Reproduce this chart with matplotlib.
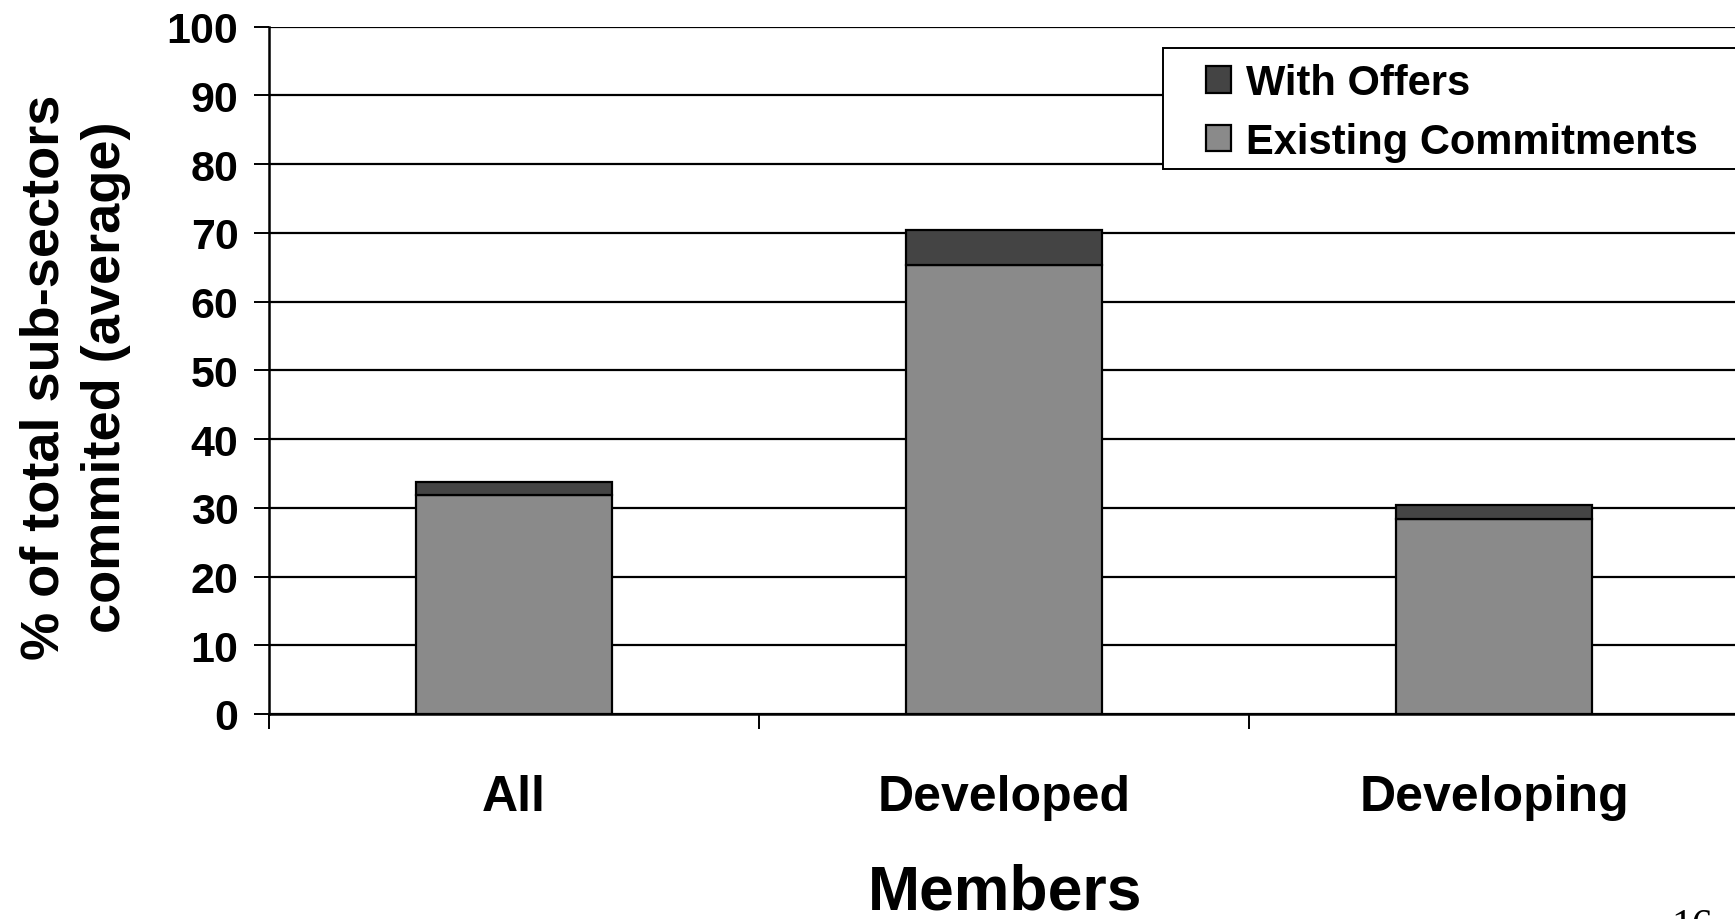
import numpy as np
import matplotlib
matplotlib.use('Agg')
import matplotlib.pyplot as plt
from matplotlib.patches import Rectangle

plt.rcParams['font.family'] = ['Liberation Sans', 'DejaVu Sans']
plt.rcParams['font.weight'] = 'bold'

# data
categories = ['All', 'Developed', 'Developing']
existing = [31.9, 65.4, 28.3]
offers = [1.9, 5.0, 2.1]
yticks = list(range(0, 101, 10))

W, H = 1735, 920
fig = plt.figure(figsize=(W / 100, H / 100), dpi=100)
ax = fig.add_axes([269 / W, 205 / H, 1.0025 - 269 / W, (715 - 27.7) / H])

x = np.arange(len(categories))
ax.bar(x, existing, width=0.4, color='#8a8a8a', edgecolor='black', linewidth=1.6,
       label='Existing Commitments', zorder=3)
ax.bar(x, offers, width=0.4, bottom=existing, color='#444444', edgecolor='black',
       linewidth=1.6, label='With Offers', zorder=3)

ax.set_xlim(-0.5, len(categories) - 0.5)
ax.set_ylim(0, 100)
ax.set_yticks(yticks)
ax.set_yticklabels([str(t) for t in yticks], fontsize=31, fontweight='bold')
ax.yaxis.grid(True, color='black', linewidth=1.6)
ax.set_axisbelow(True)

# category labels centred, ticks at the boundaries
ax.set_xticks(np.arange(len(categories) + 1) - 0.5)
ax.set_xticklabels([])
ax.set_xticks(x, minor=True)
ax.set_xticklabels(categories, minor=True, fontsize=36, fontweight='bold')
ax.tick_params(axis='x', which='minor', length=0, pad=43)
ax.tick_params(axis='x', which='major', length=11, width=1.4, direction='out')
ax.tick_params(axis='y', length=11, width=1.4, pad=11)

for s in ['top', 'right']:
    ax.spines[s].set_visible(False)
for s in ['left', 'bottom']:
    ax.spines[s].set_linewidth(1.8)

fig.text(1005 / W, 1 - 893 / H, 'Members', fontsize=45,
         fontweight='bold', ha='center', va='center')
fig.text(75 / W, 1 - 377 / H, '% of total sub-sectors\ncommited (average)',
         rotation=90, fontsize=39, fontweight='bold', ha='center', va='center',
         multialignment='center', linespacing=1.3)

# legend box runs off the right edge, so the frame is drawn separately
fig.patches.append(Rectangle((1163 / W, 1 - 170 / H), 700 / W, (170 - 48.7) / H,
                             transform=fig.transFigure, facecolor='white',
                             edgecolor='black', linewidth=1.4, zorder=4))
handles, labels = ax.get_legend_handles_labels()
leg = fig.legend(handles[::-1], labels[::-1], loc='upper left',
                 bbox_to_anchor=(1206 / W, 1 - 64 / H),
                 prop={'weight': 'bold', 'size': 30}, frameon=False,
                 handlelength=0.6, handleheight=0.6, handletextpad=0.35,
                 labelspacing=0.45, borderpad=0, borderaxespad=0)
leg.set_zorder(5)

# page number at the bottom edge, cut off as in the source slide
fig.text(1671 / W, 1 - 909 / H, '16', fontsize=30, family='Liberation Serif',
         fontweight='normal', ha='left', va='top')

fig.savefig('out.png', dpi=100)
